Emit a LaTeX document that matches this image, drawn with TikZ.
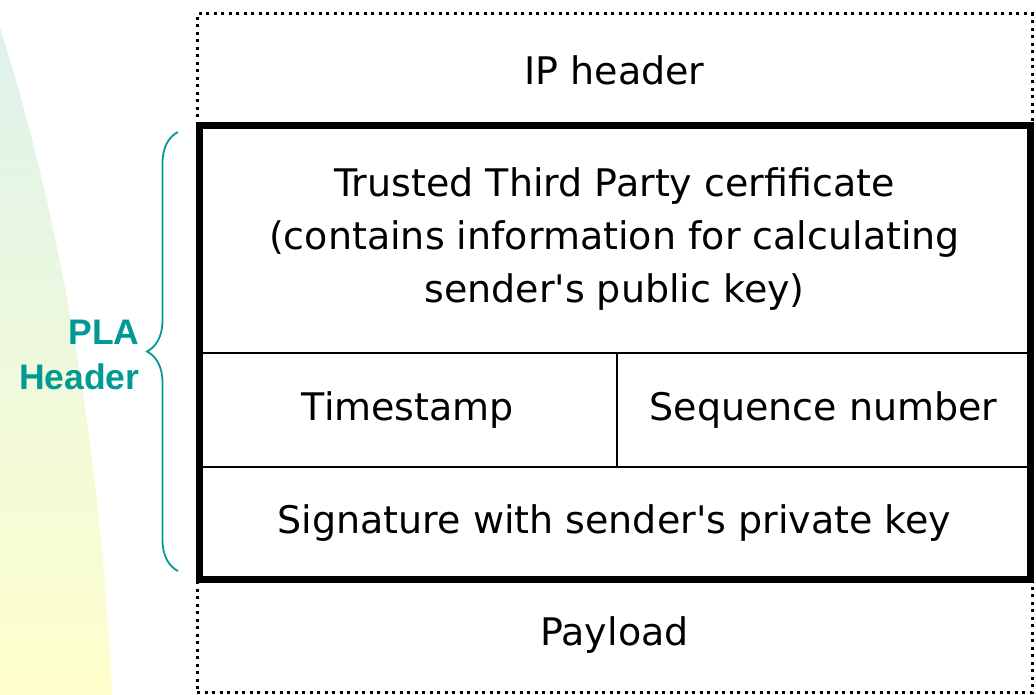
\documentclass[tikz,border=0pt]{standalone}
\usepackage{fontspec}
\setmainfont{DejaVu Sans}
\newfontfamily\plafont{Liberation Sans}
\usepackage{tikz}
\usetikzlibrary{calc,fit,positioning,decorations.pathreplacing}
\usepackage{xcolor}
\definecolor{plateal}{RGB}{0,153,148}
\definecolor{bgmint}{RGB}{222,242,236}
\definecolor{bgyellow}{RGB}{255,255,204}

\begin{document}
\begin{tikzpicture}[x=1pt,y=-1pt,
    celltext/.style={font=\fontsize{38}{53}\selectfont,align=center},
    dotbox/.style={draw,line width=3pt,dash pattern=on 3pt off 4.5pt,inner sep=0,outer sep=0,celltext},
    cell/.style={draw,line width=2.8pt,inner sep=0,outer sep=0,celltext},
    frame/.style={draw,line width=7pt}]
    \useasboundingbox (0,0) rectangle (1036,695);

    % background
    \shade[top color=bgmint,bottom color=bgyellow]
    (0,28) .. controls (55,200) and (100,430) .. (112,695) -- (0,695) -- cycle;

    \node[dotbox,minimum width=835,minimum height=112] (ip) at (614.5,70) {IP header};
    \node[dotbox,minimum width=835,minimum height=113] (payload) at (614.5,635.5) {Payload};

    \node[cell,minimum width=831,minimum height=227] (cert) at (614.5,239.5)
    {Trusted Third Party cerfificate\\(contains information for calculating\\sender\textquotesingle s public key)};
    \node[cell,minimum width=418,minimum height=114,below=0 of cert.south west,anchor=north west] (time) {Timestamp};
    \node[cell,minimum width=413,minimum height=114,right=0 of time] (seq) {Sequence number};
    \node[cell,minimum width=831,minimum height=112,below=0 of time.south west,anchor=north west] (sig)
    {Signature with sender\textquotesingle s private key};
    \draw[frame] (cert.north west) rectangle (sig.south east);

    \coordinate (btop) at (178,132);
    \coordinate (bbot) at (178,571);
    \draw[plateal,line width=1.8pt,decorate,decoration={brace,mirror,amplitude=31pt}] (btop) -- (bbot);
    \node[plateal,font=\plafont\bfseries\fontsize{35.5}{45}\selectfont,align=right,anchor=east] (plalabel) at (143,355) {PLA\\Header};

\end{tikzpicture}
\end{document}
